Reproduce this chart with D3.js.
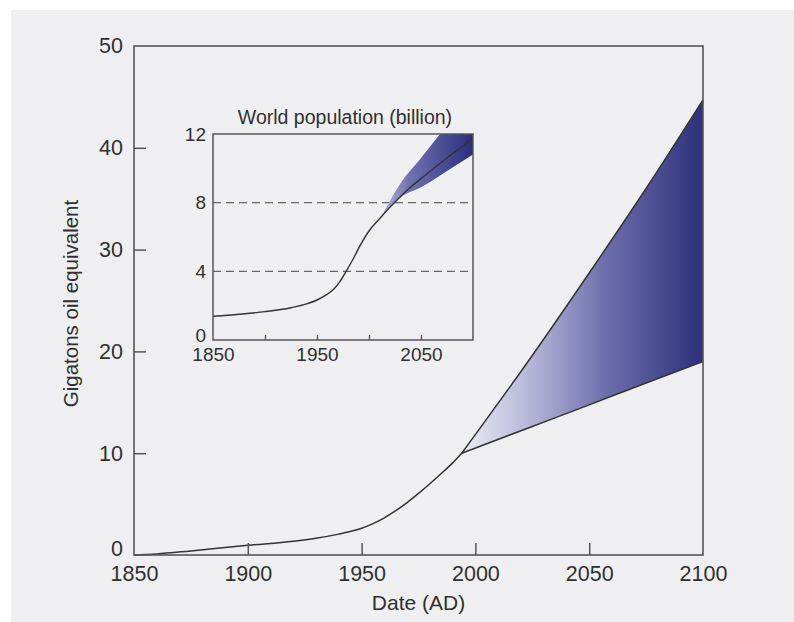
<!DOCTYPE html>
<html>
<head>
<meta charset="utf-8">
<script src="https://cdn.jsdelivr.net/npm/d3@7"></script>
<style>
  html, body { margin: 0; padding: 0; background: #ffffff; }
  svg { display: block; }
  text { font-family: "Liberation Sans", Arial, sans-serif; fill: #303030; }
</style>
</head>
<body>
<svg id="chart" width="794" height="622"></svg>
<script>
// ---------- data ----------
const energyYears  = [1850, 1860, 1875, 1900, 1920, 1930, 1940, 1945, 1950, 1955, 1960, 1965, 1970, 1975, 1980, 1985, 1990, 1994];
const energyValues = [0, 0.1, 0.4, 0.95, 1.35, 1.65, 2.05, 2.3, 2.62, 3.08, 3.65, 4.35, 5.15, 6.05, 7.0, 8.0, 9.05, 10.0];
const projYears    = [1994, 2025, 2050, 2075, 2100];
const projHigh     = [10, 19.6, 27.7, 36.0, 44.7];
const projLow      = [10, 12.63, 14.75, 16.9, 19.0];
const mainXTicks   = [1850, 1900, 1950, 2000, 2050, 2100];
const mainYTicks   = [0, 10, 20, 30, 40, 50];

const popYears     = [1850, 1875, 1900, 1925, 1940, 1950, 1958, 1966, 1972, 1978, 1985, 1991, 2000, 2010, 2018, 2026, 2038, 2050, 2062, 2075, 2088, 2100];
const popValues    = [1.38, 1.5, 1.65, 1.88, 2.1, 2.33, 2.6, 2.95, 3.4, 4.0, 4.75, 5.45, 6.35, 7.05, 7.6, 8.1, 8.8, 9.4, 9.98, 10.6, 11.2, 11.8];
const popBandYears = [2012, 2030, 2050, 2075, 2100];
const popBandHigh  = [7.2, 9.1, 10.6, 12.5, 14.3];
const popBandLow   = [7.2, 8.3, 8.9, 9.85, 10.8];
const insetXTicks  = [1850, 1900, 1950, 2000, 2050, 2100];
const insetXLabels = [1850, 1950, 2050];
const insetYTicks  = [0, 4, 8, 12];
const insetDashed  = [4, 8];

const mainTitleX = "Date (AD)";
const mainTitleY = "Gigatons oil equivalent";
const insetTitle = "World population (billion)";

// ---------- setup ----------
const svg = d3.select("#chart");
svg.append("rect").attr("x", 11).attr("y", 10).attr("width", 783).attr("height", 612).attr("fill", "#efeff2");

const defs = svg.append("defs");
const axisColor = "#555";
const lineColor = "#333";

// main scales
const M = { left: 134, right: 703, top: 46, bottom: 555 };
const x = d3.scaleLinear().domain([1850, 2100]).range([M.left, M.right]);
const y = d3.scaleLinear().domain([0, 50]).range([M.bottom, M.top]);

// gradient for main fan
const g1 = defs.append("linearGradient").attr("id", "fanGrad")
  .attr("gradientUnits", "userSpaceOnUse")
  .attr("x1", x(projYears[0])).attr("x2", x(2100)).attr("y1", 0).attr("y2", 0);
[[0, "#ececf5"], [0.3, "#b2b2d6"], [0.6, "#6c6eab"], [1, "#2d307a"]].forEach(([o, c]) =>
  g1.append("stop").attr("offset", o).attr("stop-color", c));

const proj = projYears.map((yr, i) => ({ yr, hi: projHigh[i], lo: projLow[i] }));
const area = d3.area().x(d => x(d.yr)).y0(d => y(d.lo)).y1(d => y(d.hi)).curve(d3.curveMonotoneX);
svg.append("path").datum(proj).attr("d", area).attr("fill", "url(#fanGrad)");

const lineMain = d3.line().x(d => x(d[0])).y(d => y(d[1])).curve(d3.curveMonotoneX);
const mainLines = [
  energyYears.map((yr, i) => [yr, energyValues[i]]),
  proj.map(d => [d.yr, d.hi]),
  proj.map(d => [d.yr, d.lo])
];
mainLines.forEach(pts => svg.append("path").datum(pts)
  .attr("d", lineMain).attr("fill", "none").attr("stroke", lineColor).attr("stroke-width", 1.5));

// main frame
svg.append("rect").attr("x", M.left).attr("y", M.top).attr("width", M.right - M.left).attr("height", M.bottom - M.top)
  .attr("fill", "none").attr("stroke", axisColor).attr("stroke-width", 1.6);

// main axes
const xAxis = d3.axisBottom(x).tickValues(mainXTicks).tickFormat(d3.format("d")).tickSize(-12).tickPadding(11);
const gx = svg.append("g").attr("transform", `translate(0,${M.bottom})`).call(xAxis);
const yAxis = d3.axisLeft(y).tickValues(mainYTicks).tickFormat(d3.format("d")).tickSize(-12).tickPadding(11);
const gy = svg.append("g").attr("transform", `translate(${M.left},0)`).call(yAxis);
[gx, gy].forEach(g => {
  g.select(".domain").remove();
  g.selectAll(".tick line").attr("stroke", axisColor).attr("stroke-width", 1.5);
  g.selectAll(".tick text").style("font-size", "21.5px").attr("fill", "#303030");
});
gx.selectAll(".tick").filter(d => d === 1850 || d === 2100).select("line").remove();
gy.selectAll(".tick").filter(d => d === 0 || d === 50).select("line").remove();
gy.selectAll(".tick").filter(d => d === 0).select("text").attr("y", -6);

svg.append("text").attr("x", (M.left + M.right) / 2).attr("y", 610).attr("text-anchor", "middle")
  .style("font-size", "21px").text(mainTitleX);
svg.append("text").attr("transform", `translate(78,${(M.top + M.bottom) / 2 + 3}) rotate(-90)`)
  .attr("text-anchor", "middle").style("font-size", "20.5px").text(mainTitleY);

// ---------- inset ----------
const I = { left: 213, right: 473, top: 134, bottom: 340 };
const xi = d3.scaleLinear().domain([1850, 2100]).range([I.left, I.right]);
const yi = d3.scaleLinear().domain([0, 12]).range([I.bottom, I.top]);

defs.append("clipPath").attr("id", "insetClip").append("rect")
  .attr("x", I.left).attr("y", I.top).attr("width", I.right - I.left).attr("height", I.bottom - I.top);

const g2 = defs.append("linearGradient").attr("id", "popGrad")
  .attr("gradientUnits", "userSpaceOnUse")
  .attr("x1", xi(popBandYears[0])).attr("x2", xi(2100)).attr("y1", 0).attr("y2", 0);
[[0, "#b4b4d6"], [0.3, "#7072b0"], [1, "#2a2d7c"]].forEach(([o, c]) =>
  g2.append("stop").attr("offset", o).attr("stop-color", c));

const inset = svg.append("g").attr("clip-path", "url(#insetClip)");

insetDashed.forEach(v => {
  inset.append("line").attr("x1", I.left).attr("x2", I.right).attr("y1", yi(v)).attr("y2", yi(v))
    .attr("stroke", "#666").attr("stroke-width", 1.4).attr("stroke-dasharray", "8,5");
});

const band = popBandYears.map((yr, i) => ({ yr, hi: popBandHigh[i], lo: popBandLow[i] }));
const areaI = d3.area().x(d => xi(d.yr)).y0(d => yi(d.lo)).y1(d => yi(d.hi)).curve(d3.curveMonotoneX);
inset.append("path").datum(band).attr("d", areaI).attr("fill", "url(#popGrad)");

const lineI = d3.line().x(d => xi(d[0])).y(d => yi(d[1])).curve(d3.curveMonotoneX);
inset.append("path").datum(popYears.map((yr, i) => [yr, popValues[i]]))
  .attr("d", lineI).attr("fill", "none").attr("stroke", lineColor).attr("stroke-width", 1.4);

svg.append("rect").attr("x", I.left).attr("y", I.top).attr("width", I.right - I.left).attr("height", I.bottom - I.top)
  .attr("fill", "none").attr("stroke", axisColor).attr("stroke-width", 1.5);

const xiAxis = d3.axisBottom(xi).tickValues(insetXTicks)
  .tickFormat(d => insetXLabels.includes(d) ? d3.format("d")(d) : "").tickSize(-5).tickPadding(8);
const gxi = svg.append("g").attr("transform", `translate(0,${I.bottom})`).call(xiAxis);
const yiAxis = d3.axisLeft(yi).tickValues(insetYTicks).tickFormat(d3.format("d")).tickSize(0).tickPadding(7);
const gyi = svg.append("g").attr("transform", `translate(${I.left},0)`).call(yiAxis);
[gxi, gyi].forEach(g => {
  g.select(".domain").remove();
  g.selectAll(".tick line").attr("stroke", axisColor).attr("stroke-width", 1.4);
  g.selectAll(".tick text").style("font-size", "19px").attr("fill", "#303030");
});
gxi.selectAll(".tick").filter(d => d === 1850 || d === 2100).select("line").remove();
gyi.selectAll(".tick").filter(d => d === 0).select("text").attr("y", -5);

svg.append("text").attr("x", (I.left + I.right) / 2 + 2).attr("y", 124).attr("text-anchor", "middle")
  .style("font-size", "19.5px").text(insetTitle);
</script>
</body>
</html>
